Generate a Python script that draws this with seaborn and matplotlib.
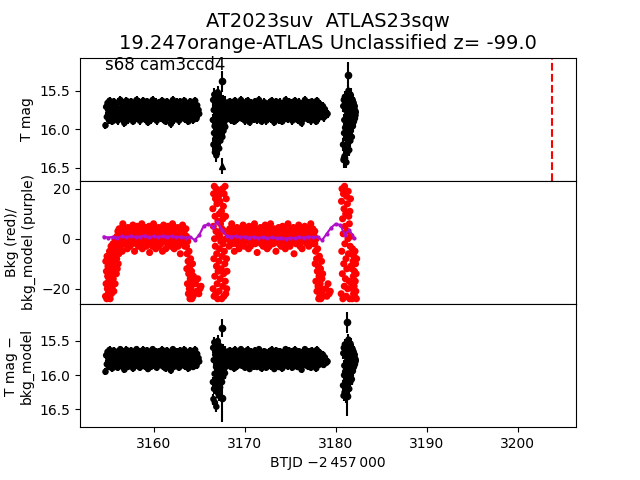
import numpy as np
import pandas as pd
import matplotlib
matplotlib.use("Agg")
import matplotlib.pyplot as plt
import seaborn as sns

# time ranges of the data segments (BTJD - 2457000); the values of a segment
# are laid out at an even cadence over its range
seg_a_range = [3154.7, 3165.0]
seg_b_range = [3166.5, 3168.05]
seg_c_range = [3168.2, 3179.1]
seg_d_range = [3180.8, 3182.2]

# T mag in hundredths of a mag above 15 (71 -> 15.71)
top_a = [95, 71, 84, 66, 79, 88, 63, 75, 82, 69, 90, 73, 64, 86, 77, 68, 81, 72, 89, 65,
         78, 83, 62, 74, 87, 70, 80, 66, 92, 76, 85, 63, 71, 88, 79, 67, 84, 73, 64, 81,
         75, 90, 68, 82, 70, 86, 62, 77, 83, 65, 79, 89, 72, 66, 85, 74, 63, 80, 87, 69,
         76, 84, 64, 91, 71, 78, 67, 88, 73, 82, 62, 86, 75, 69, 80, 65, 89, 77, 70, 83,
         66, 79, 85, 72, 63, 87, 74, 81, 68, 90, 76, 64, 83, 71, 78, 86, 67, 93, 73, 80,
         62, 88, 75, 69, 84, 77, 65, 82, 71, 89, 79, 64, 86, 73, 68, 81, 76, 63, 87, 70,
         83, 67, 78, 90, 72, 85, 64, 80, 74, 66, 88, 71, 82, 63, 77, 86, 69, 79, 75, 80]
top_b = [88, 62, 120, 75, 105, 55, 96, 130, 70, 112, 58, 84, 134, 66, 100, 78, 118, 52, 92, 108,
         72, 60, 125, 82, 64, 98, 115, 60, 86, 104, 74, 95, 68, 110, 80, 90, 63, 102, 76, 94,
         70, 85, 65, 97, 78, 88, 72, 82, 76, 80]
top_c = [70, 85, 64, 79, 88, 73, 66, 82, 76, 90, 63, 81, 69, 87, 74, 67, 84, 71, 78, 62,
         86, 75, 68, 83, 72, 89, 65, 80, 77, 63, 84, 70, 91, 74, 66, 82, 79, 68, 87, 73,
         64, 80, 76, 88, 69, 85, 62, 78, 83, 71, 90, 67, 75, 86, 65, 81, 73, 89, 70, 77,
         84, 66, 79, 72, 87, 63, 82, 75, 68, 91, 74, 80, 64, 86, 71, 78, 88, 65, 83, 69,
         76, 90, 67, 81, 73, 85, 62, 79, 70, 87, 77, 64, 84, 72, 80, 66, 89, 74, 82, 68,
         63, 86, 75, 71, 88, 78, 65, 83, 70, 80, 92, 67, 76, 85, 73, 62, 81, 79, 69, 87,
         74, 66, 84, 77, 89, 64, 82, 71, 86, 68, 79, 75, 90, 63, 80, 72, 85, 67, 78, 83,
         76, 81, 70, 85, 79, 74, 78, 82, 80, 80]
top_d = [120, 70, 140, 62, 105, 88, 135, 58, 98, 125, 75, 112, 66, 143, 82, 100, 60, 130, 92, 72,
         118, 50, 108, 85, 127, 64, 95, 78, 115, 55, 102, 80, 90, 68, 110, 76, 86, 62, 96, 74,
         84, 66, 90, 72, 80, 70, 86, 76, 82, 78]
# T mag - bkg_model: the quiet parts follow the top panel
bot_b = [110, 60, 135, 78, 120, 52, 98, 140, 70, 115, 56, 88, 146, 65, 104, 80, 125, 50, 94, 112,
         72, 130, 84, 62, 100, 118, 58, 86, 106, 74, 96, 66, 110, 80, 90, 62, 102, 76, 94, 70,
         85, 65, 97, 78, 88, 72, 82, 76, 80, 78]
bot_d = [115, 68, 130, 60, 100, 86, 125, 55, 95, 118, 72, 108, 62, 132, 80, 98, 58, 122, 90, 70,
         112, 48, 104, 84, 120, 62, 92, 76, 110, 54, 100, 78, 88, 66, 106, 74, 84, 62, 94, 72,
         82, 66, 88, 72, 80, 70, 84, 76, 80, 78]
flat_err = 0.05
burst_err = 0.08

# single points with long error bars
top_hi_t = [3167.5, 3181.3, 3180.95]
top_hi_mag = [15.38, 15.29, 16.38]
top_hi_err = [0.14, 0.16, 0.13]
bot_hi_t = [3167.5, 3167.5, 3181.2, 3181.2]
bot_hi_mag = [15.31, 16.34, 15.23, 16.30]
bot_hi_err = [0.13, 0.34, 0.16, 0.30]
lim_t = [3167.45]
lim_mag = [16.48]
lim_err = [0.1]

# background flux (red), per piece: time range and values
bkg_ranges = [[3154.7, 3156.3], [3156.3, 3163.6], [3163.6, 3164.4], [3164.6, 3165.2],
              [3166.5, 3168.05], [3168.2, 3177.7], [3177.7, 3178.6], [3178.9, 3179.4],
              [3180.6, 3182.3]]
bkg_ramp = [-23, -9, -18, -13, -24, -7, -20, -15, -11, -22, -17, -8,
            -21, -5, -14, -24, -10, -18, -3, -22, -12, -7, -19, -15,
            -2, -16, -9, -21, -5, -13, 0, -18, -7, -11, -3, -14,
            -8, 1, -12, -4, 3, -10, -1, -6, 4, -3, 2, -5]
bkg_flat1 = [2, -3, 4, 0, -5, 6, 1, -1, 3, -2, 4, 0, 2, -4, 4.5, -1, 1, 3, -3, 4,
             0, -2, 2, 5.5, -1, 3, -5, 1, 4, -2, 0, 5, 2, -3, 3, -1, 4, 1, -2, 6,
             -4, 2, 0, 3, -1, 4.5, 1, -3, 4, -2, 2, 0, 5, -5.5, 3, 1, -1, 4, -3, 2,
             6, 0, -2, 3, -4, 1, 4, -1, 2, 4.5, -3, 0, 3, -2, 4, 1, -5, 2, 5.5, -1,
             0, 3, -4, 4, 1, -2, 5, 2, -1, 3, 0, -3, 4, 1, 6, -2, 2, -4, 3, 0,
             4, -1, 1, 4.5, -3, 2, 0, 3, -6, 4, 1, -2, 5.5, 2, -1, 3, -3, 0, 4, 1]
bkg_drop1 = [-3, -12, -6, -18, -1, -9, -22, -14, -5, -20, -11, -24,
             -16, -8, -23, -19, -13, -24, -21, -10, -17, -23, -15, -22]
bkg_scat1 = [-18, -21, -16, -22, -20, -19]
bkg_burst1 = [12, -20, 5, 18, -8, -23, 21, 0, -15, 9, -3, 16, -22, 3, 20, -11, -6, 14, -18, 19,
              -24, 7, -13, 2, 17, -9, -21, 10, -4, 1, 15, -16, 6, -1, 19, -12, 11, -24, 4, -7,
              20, -19, 8, -2, 13, -14, -23, 18, -5, 3, -10, 21, -17, 9, -22, 0, 16, -8, -20, -13]
bkg_flat2 = [1, -3, 4, -1, 2, 6, -2, 0, 3, -5, 4, 1, -2, 4.5, 0, 2, -4, 3, -1, 4,
             1, -2, 5.5, 0, -3, 2, 4, -1, 3, 0, -4, 5, 1, -3, 4, 2, -1, 3, 0, 6,
             -2, 1, 4, -5.5, 2, 0, 3, -1, 4.5, -2, 1, 4, -3, 0, 2, 5.5, -1, 3, -4, 4,
             1, -3, 0, 6, 2, -1, 3, -2, 4, 0, 1, -5, 2, -1, 3, 4.5, -2, 4, 0, -3,
             2, 5, -1, 1, 4, -4, 3, 0, -2, 6, 1, 3, -3, 2, 4, -1, 0, 4.5, -6, 2,
             3, -2, 1, 4, -1, 5.5, 0, -3, 2, 4, -4, 1, 3, -1, 5, 0, 2, -2, 4, 1,
             -3, 3, 0, 6, -1, 2, 4, -2, 1, 3]
bkg_drop2 = [-2, -10, -5, -17, 0, -8, -21, -13, -4, -19, -11, -24,
             -15, -7, -23, -18, -12, -24, -20, -9, -16, -22, -14, -23]
bkg_scat2 = [-20, -23, -18, -22, -21]
bkg_burst2 = [-22, 15, -5, 20, -14, 8, -24, 2, 18, -10, 12, -19, 21, -2, 5, -16, 10, -8,
              -23, 17, -12, 3, 14, -20, 0, 19, -6, 9, -17, 6, -24, 11, -3, 16, -11, 1,
              -6, -18, -12, -24, -4, -20, -9, -15, -22, -7, -19, -13, -23, -5, -17, -10,
              -21, -14, -24, -8]
bkg_pieces = [bkg_ramp, bkg_flat1, bkg_drop1, bkg_scat1, bkg_burst1,
              bkg_flat2, bkg_drop2, bkg_scat2, bkg_burst2]

# background model (purple), sampled every half day
model_range = [3154.5, 3182.0]
bkg_model = [0.9, 0.5, 0.8, 0.4, 1.0, 0.6, 1.2, 0.7, 0.9, 1.3, 0.6, 1.0, 0.7, 1.2,
             0.8, 1.0, 0.6, 0.9, 0.5, 0.8, -0.5, 1.5, 5.2, 5.8, 4.8, 6.8, 3.5, 1.2,
             0.9, 1.1, 0.6, 0.9, 0.5, 0.8, 0.4, 0.7, 0.3, 0.6, 0.2, 0.5, 0.1, 0.4,
             0.3, 0.7, 0.5, 0.9, 0.6, 0.8, -0.6, 2.0, 4.5, 6.0, 5.5, 1.7, 3.6, 0.3]

disc_t = 3203.8


def spread(rng, vals):
    return np.linspace(rng[0], rng[1], len(vals))


def draw_mags(ax, pieces, hi_t, hi_mag, hi_err):
    for rng, cmag, err in pieces:
        t = spread(rng, cmag)
        mag = 15 + np.array(cmag) / 100
        ax.errorbar(t, mag, yerr=err, fmt="none", ecolor="k", elinewidth=1.5)
        sns.scatterplot(x=t, y=mag, ax=ax, color="k", s=22, edgecolor="none")
    ax.errorbar(hi_t, hi_mag, yerr=hi_err, fmt="o", color="k", ms=4.5)


fig, axes = plt.subplots(3, 1, sharex=True, figsize=(6.4, 4.8), dpi=100)
fig.subplots_adjust(hspace=0)
ax1, ax2, ax3 = axes

draw_mags(ax1, [(seg_a_range, top_a, flat_err), (seg_b_range, top_b, burst_err),
                (seg_c_range, top_c, flat_err), (seg_d_range, top_d, burst_err)],
          top_hi_t, top_hi_mag, top_hi_err)
ax1.errorbar(lim_t, lim_mag, yerr=lim_err, fmt="^", color="k", ms=5)
ax1.axvline(disc_t, color="r", ls="--")
ax1.set_ylim(16.67, 15.07)
ax1.set_yticks([15.5, 16.0, 16.5])
ax1.set_ylabel("T mag")
ax1.set_title("AT2023suv  ATLAS23sqw\n19.247orange-ATLAS Unclassified z= -99.0",
              fontsize=14)
ax1.text(0.05, 0.9, "s68 cam3ccd4", transform=ax1.transAxes, fontsize=12)

for rng, vals in zip(bkg_ranges, bkg_pieces):
    sns.scatterplot(x=spread(rng, vals), y=vals, ax=ax2, color="red", s=26,
                    edgecolor="none")
model = pd.DataFrame({"t": spread(model_range, bkg_model), "bkg": bkg_model})
sns.lineplot(data=model, x="t", y="bkg", ax=ax2, color="#b010c8", marker="o",
             ms=3, mec="none", lw=1.5)
ax2.set_ylim(-26.1, 23.2)
ax2.set_yticks([-20, 0, 20])
ax2.set_ylabel("Bkg (red)/\nbkg_model (purple)")

draw_mags(ax3, [(seg_a_range, top_a, flat_err), (seg_b_range, bot_b, burst_err),
                (seg_c_range, top_c, flat_err), (seg_d_range, bot_d, burst_err)],
          bot_hi_t, bot_hi_mag, bot_hi_err)
ax3.set_ylim(16.76, 14.96)
ax3.set_yticks([15.5, 16.0, 16.5])
ax3.set_ylabel("T mag \u2212\nbkg_model")

ax3.set_xlim(3151.9, 3206.4)
ax3.set_xlabel("BTJD \u22122\u2009457\u2009000")

fig.savefig("out.png")
